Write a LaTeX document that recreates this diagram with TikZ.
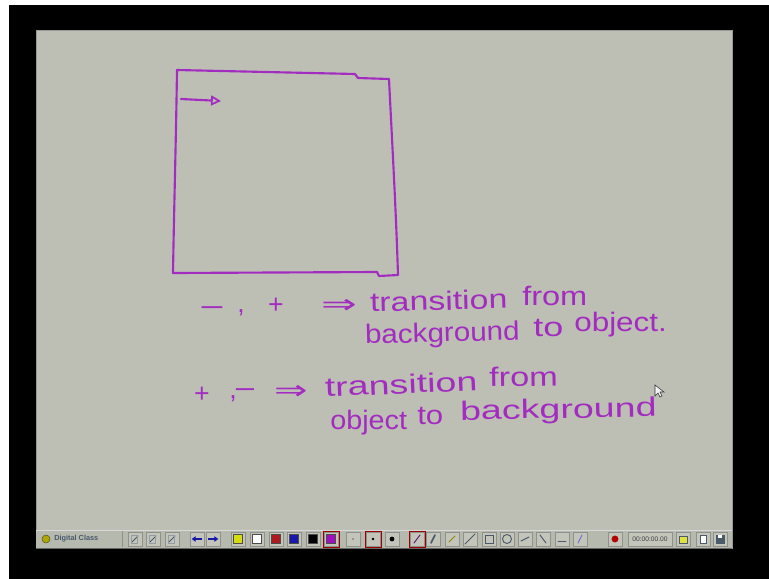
\documentclass[tikz,border=0pt]{standalone}
\usepackage{fontspec}
\setmainfont{Liberation Sans}
\newfontfamily\hand{Liberation Sans}
\newfontfamily\dv{DejaVu Sans}
\usetikzlibrary{arrows.meta}
\definecolor{ink}{HTML}{A32CC0}
\definecolor{slide}{HTML}{BDBFB5}
\definecolor{tbar}{HTML}{B6B9AE}
\definecolor{btnface}{HTML}{C3C5BB}
\definecolor{btnedge}{HTML}{8F928A}
\definecolor{swY}{HTML}{D6DC10}
\definecolor{swR}{HTML}{B01820}
\definecolor{swB}{HTML}{1818A8}
\definecolor{swM}{HTML}{A010C0}
\definecolor{icon}{HTML}{4A5A6A}
\tikzset{
  sq/.style={draw=ink, line width=1.6pt, line join=round, line cap=round},
  txt/.style={text=ink, font=\hand\fontsize{20}{24}\selectfont, inner sep=0pt},
  word/.style={txt, anchor=base west},
  sym/.style={text=ink, font=\dv\fontsize{20}{24}\selectfont, inner sep=0pt},
  btn/.style={draw=btnedge, fill=btnface, minimum width=10.5pt, minimum height=10.5pt, inner sep=0pt},
  swatch/.style={draw=black!70, minimum width=6.5pt, minimum height=6.5pt, inner sep=0pt},
  sel/.style={draw=red!60!black, line width=0.5pt, minimum width=12pt, minimum height=12pt, inner sep=0pt},
  ic/.style={draw=icon, line width=0.7pt, line cap=round},
}
\begin{document}
\begin{tikzpicture}[x=0.75pt,y=-0.75pt]
\useasboundingbox (0,0) rectangle (769,579);
\fill[white] (0,0) rectangle (769,579);
\fill[black] (9,5) rectangle (769,579);
% slide
\fill[slide] (36,30) rectangle (732,530);
\draw[gray!80, line width=0.6pt] (36,30) rectangle (732,548);
% toolbar
\fill[tbar] (36,530) rectangle (732,548);
\draw[white!70!gray, line width=0.5pt] (36,530) -- (732,530);
\draw[black!60, line width=0.6pt] (36,548) -- (732,548);
\draw[btnedge, line width=0.5pt] (122,531) -- (122,547);

% hand-drawn square
\draw[sq] (177,70) .. controls (176,140) and (174,210) .. (173,273)
  -- (377,272) -- (379,276) -- (398,275)
  .. controls (396,210) and (392,140) .. (389,79)
  -- (358,78) -- (355,74) -- cycle;
\coordinate (a0) at (181,99);
\coordinate (a1) at (221,101);
\draw[sq, -{Triangle[open, length=7.5pt, width=7.5pt, line width=1.3pt]}] (a0) -- (a1);

% line 1
\node[txt, anchor=base] (m1) at (212,316) {\scalebox{1.6}[1]{−}};
\node[txt, anchor=base] (c1) at (241,312) {,};
\node[txt, anchor=base] (p1) at (276,313) {+};
\node[sym, anchor=base] (r1) at (339,313) {\scalebox{1.6}[1]{⇒}};
\node[word, rotate=1.5] (t1a) at (370,312) {\scalebox{1.27}[1]{transition}};
\node[word] (t1b) at (522,305) {\scalebox{1.22}[1]{from}};
% line 2
\node[word, rotate=1.5] (t2a) at (365,344) {\scalebox{1.11}[1]{background}};
\node[word] (t2b) at (533,336) {\scalebox{1.35}[1]{to}};
\node[word] (t2c) at (574,331) {\scalebox{1.18}[1]{object.}};

% line 3
\node[txt, anchor=base] (p3) at (202,402) {+};
\node[txt, anchor=base] (c3) at (233,398) {,};
\node[txt, anchor=base] (m3) at (245,398) {\scalebox{1.4}[1]{−}};
\node[sym, anchor=base] (r3) at (291,399) {\scalebox{1.5}[1]{⇒}};
\node[word, rotate=2.5] (t3a) at (325,397) {\scalebox{1.41}[1]{transition}};
\node[word, rotate=1] (t3b) at (489,387) {\scalebox{1.29}[1]{from}};
% line 4
\node[word] (t4a) at (330,429) {\scalebox{1.08}[1]{object}};
\node[word] (t4b) at (417,424) {\scalebox{1.17}[1]{to}};
\node[word, rotate=1] (t4c) at (460,420) {\scalebox{1.41}[1]{background}};

% mouse pointer
\draw[gray!40!black, fill=white!90!gray, line width=0.4pt] (655,385) -- (655,396) -- (658,393) -- (660,397) -- (662,396) -- (660,392) -- (664,392) -- cycle;

% toolbar: tab
\node[circle, fill=olive!70!yellow, draw=olive!50!black, minimum size=6pt, inner sep=0pt] (logo) at (46,539) {};
\node[font=\bfseries\fontsize{5.5}{6}\selectfont, text=icon, anchor=west, inner sep=0pt] (dc) at (54,539) {Digital Class};

% doc buttons
\foreach \x [count=\i] in {135,153,172} {
  \node[btn] (db\i) at (\x,539) {};
  \draw[ic] ([shift={(-3,3)}]db\i.center) -- ([shift={(3,-3)}]db\i.center);
  \draw[icon!60, line width=0.5pt] ([shift={(-4,-4)}]db\i.center) rectangle ([shift={(2,4)}]db\i.center);
}
% arrows
\node[btn] (ab1) at (197,539) {};
\node[btn] (ab2) at (213,539) {};
\draw[swB, line width=1.3pt, -{Triangle[length=3pt,width=4pt]}] ([xshift=4]ab1.center) -- ([xshift=-4]ab1.center);
\draw[swB, line width=1.3pt, -{Triangle[length=3pt,width=4pt]}] ([xshift=-4]ab2.center) -- ([xshift=4]ab2.center);
% colour swatches
\foreach \x/\c [count=\i] in {238/swY,257/white,276/swR,294/swB,313/black,331/swM} {
  \node[btn] (cb\i) at (\x,539) {};
  \node[swatch, fill=\c] (sw\i) at (\x,539) {};
}
\node[sel] (selc) at (331,539) {};
% dot sizes
\node[btn] (ds1) at (353,539) {};
\node[btn] (ds2) at (373,539) {};
\node[btn] (ds3) at (392,539) {};
\node[sel] (seld) at (373,539) {};
\fill[black] (ds1.center) circle (0.4pt);
\fill[black] (ds2.center) circle (1.1pt);
\fill[black] (ds3.center) circle (1.8pt);
% tools
\foreach \x [count=\i] in {417,433,452,470,489,507,525,543,562,580} {
  \node[btn] (tl\i) at (\x,539) {};
}
\node[sel] (selt) at (417,539) {};
\draw[ic, draw=ink!60!black] ([shift={(-3,4)}]tl1.center) -- ([shift={(3,-4)}]tl1.center);
\draw[ic, line width=1.2pt] ([shift={(-2,4)}]tl2.center) -- ([shift={(2,-4)}]tl2.center);
\draw[ic, draw=olive] ([shift={(-3,3)}]tl3.center) -- ([shift={(3,-3)}]tl3.center);
\draw[ic] ([shift={(-5,5)}]tl4.center) -- ([shift={(5,-5)}]tl4.center);
\draw[ic] ([shift={(-4,-4)}]tl5.center) rectangle ([shift={(4,4)}]tl5.center);
\draw[ic] (tl6.center) circle (4.5);
\draw[ic] ([shift={(-4,2)}]tl7.center) -- ([shift={(4,-2)}]tl7.center);
\draw[ic] ([shift={(-3,-4)}]tl8.center) -- ([shift={(3,4)}]tl8.center);
\draw[ic] ([shift={(-4,2)}]tl9.center) -- ([shift={(4,2)}]tl9.center);
\draw[ic, draw=swB!60] ([shift={(-2,4)}]tl10.center) -- ([shift={(2,-4)}]tl10.center);
% record & timer
\node[btn] (rec) at (615,539) {};
\fill[red!70!black] (rec.center) circle (2.6pt);
\node[btn, minimum width=33pt, font=\fontsize{5}{6}\selectfont, text=gray!50!black] (tm) at (650,539) {00:00:00.00};
\foreach \x [count=\i] in {683,703,720} {
  \node[btn] (fb\i) at (\x,539) {};
}
\fill[swY!80!white, draw=icon] ([shift={(-4,-3)}]fb1.center) rectangle ([shift={(4,4)}]fb1.center);
\fill[white, draw=icon] ([shift={(-3,-4)}]fb2.center) rectangle ([shift={(3,4)}]fb2.center);
\fill[icon, draw=icon] ([shift={(-4,-4)}]fb3.center) rectangle ([shift={(4,4)}]fb3.center);
\fill[white] ([shift={(-2,-4)}]fb3.center) rectangle ([shift={(2,-1)}]fb3.center);
\end{tikzpicture}
\end{document}
